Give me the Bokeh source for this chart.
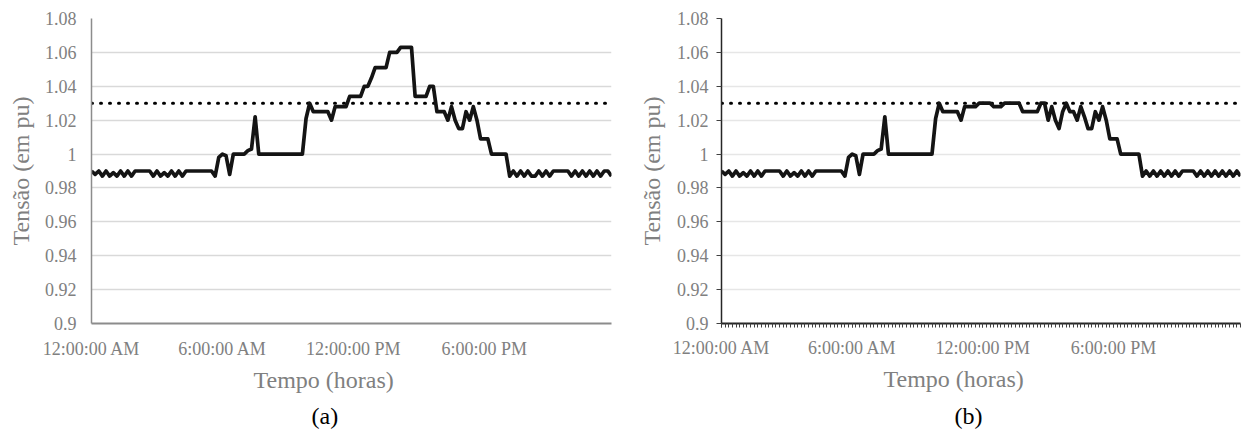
import numpy as np
from bokeh.plotting import figure
from bokeh.layouts import row
from bokeh.models import FixedTicker, Range1d, Title, NumeralTickFormatter
from bokeh.embed import file_html
from bokeh.resources import INLINE

# ---- data -------------------------------------------------------------
# 144 samples (10-minute steps over 24 hours)
time_index = list(range(144))
time_tick_index = [0, 36, 72, 108]
time_tick_labels = ["12:00:00 AM", "6:00:00 AM", "12:00:00 PM", "6:00:00 PM"]
y_ticks = [0.90, 0.92, 0.94, 0.96, 0.98, 1.00, 1.02, 1.04, 1.06, 1.08]
limit_value = 1.03

tensao_a = [
    0.990, 0.988, 0.990, 0.987, 0.990, 0.987, 0.989, 0.987, 0.990, 0.987, 0.990, 0.987,
    0.990, 0.990, 0.990, 0.990, 0.990, 0.987, 0.990, 0.987, 0.989, 0.987, 0.990, 0.987,
    0.990, 0.987, 0.990, 0.990, 0.990, 0.990, 0.990, 0.990, 0.990, 0.990, 0.987, 0.998,
    1.000, 0.999, 0.988, 1.000, 1.000, 1.000, 1.000, 1.002, 1.003, 1.022, 1.000, 1.000,
    1.000, 1.000, 1.000, 1.000, 1.000, 1.000, 1.000, 1.000, 1.000, 1.000, 1.000, 1.021,
    1.030, 1.025, 1.025, 1.025, 1.025, 1.025, 1.020, 1.028, 1.028, 1.028, 1.028, 1.034,
    1.034, 1.034, 1.034, 1.040, 1.040, 1.045, 1.051, 1.051, 1.051, 1.051, 1.060, 1.060,
    1.060, 1.063, 1.063, 1.063, 1.063, 1.034, 1.034, 1.034, 1.034, 1.040, 1.040, 1.025,
    1.025, 1.025, 1.020, 1.028, 1.020, 1.015, 1.015, 1.025, 1.020, 1.028, 1.020, 1.009,
    1.009, 1.009, 1.000, 1.000, 1.000, 1.000, 1.000, 0.987, 0.990, 0.987, 0.990, 0.987,
    0.990, 0.987, 0.987, 0.990, 0.987, 0.990, 0.987, 0.990, 0.990, 0.990, 0.990, 0.990,
    0.987, 0.990, 0.987, 0.990, 0.987, 0.990, 0.987, 0.990, 0.987, 0.990, 0.990, 0.987,
]

tensao_b = [
    0.990, 0.988, 0.990, 0.987, 0.990, 0.987, 0.989, 0.987, 0.990, 0.987, 0.990, 0.987,
    0.990, 0.990, 0.990, 0.990, 0.990, 0.987, 0.990, 0.987, 0.989, 0.987, 0.990, 0.987,
    0.990, 0.987, 0.990, 0.990, 0.990, 0.990, 0.990, 0.990, 0.990, 0.990, 0.987, 0.998,
    1.000, 0.999, 0.988, 1.000, 1.000, 1.000, 1.000, 1.002, 1.003, 1.022, 1.000, 1.000,
    1.000, 1.000, 1.000, 1.000, 1.000, 1.000, 1.000, 1.000, 1.000, 1.000, 1.000, 1.021,
    1.030, 1.025, 1.025, 1.025, 1.025, 1.025, 1.020, 1.028, 1.028, 1.028, 1.028, 1.030,
    1.030, 1.030, 1.030, 1.028, 1.028, 1.028, 1.030, 1.030, 1.030, 1.030, 1.030, 1.025,
    1.025, 1.025, 1.025, 1.025, 1.030, 1.030, 1.020, 1.028, 1.020, 1.015, 1.025, 1.030,
    1.025, 1.025, 1.020, 1.028, 1.022, 1.015, 1.015, 1.025, 1.020, 1.028, 1.020, 1.009,
    1.009, 1.009, 1.000, 1.000, 1.000, 1.000, 1.000, 1.000, 0.987, 0.990, 0.987, 0.990,
    0.987, 0.990, 0.987, 0.990, 0.987, 0.990, 0.987, 0.990, 0.990, 0.990, 0.990, 0.987,
    0.990, 0.987, 0.990, 0.987, 0.990, 0.987, 0.990, 0.987, 0.990, 0.987, 0.990, 0.987,
]

limit_series = [limit_value] * len(time_index)

FONT = "Liberation Serif"
GRAY_TXT = "#808080"


def make_fig(values, caption, width, height, bl, br, bt, bb, ticks, axis_col,
             grid_col, cfg):
    p = figure(width=width, height=height,
               x_range=Range1d(time_index[0], time_index[-1]),
               y_range=Range1d(y_ticks[0], y_ticks[-1]),
               output_backend="svg", toolbar_location=None,
               min_border_left=bl, min_border_right=br,
               min_border_top=bt, min_border_bottom=bb)
    p.outline_line_color = None
    p.background_fill_color = "white"
    p.border_fill_color = "white"

    p.line(time_index, limit_series, line_color="black", line_width=3,
           line_dash="1 8", line_cap="round")
    p.line(time_index, values, line_color="#141414", line_width=3.7,
           line_join="round")

    # y axis
    p.yaxis.ticker = FixedTicker(ticks=y_ticks, minor_ticks=[])
    p.yaxis.formatter = NumeralTickFormatter(format="0.[00]")
    p.yaxis.axis_label = "Tensão (em pu)"
    p.yaxis.axis_label_text_font = FONT
    p.yaxis.axis_label_text_font_size = "24px"
    p.yaxis.axis_label_text_font_style = "normal"
    p.yaxis.axis_label_text_color = GRAY_TXT
    p.yaxis.axis_label_standoff = cfg["ylab_so"]
    p.yaxis.major_label_text_font = FONT
    p.yaxis.major_label_text_font_size = "18px"
    p.yaxis.major_label_text_color = GRAY_TXT
    p.yaxis.major_label_standoff = cfg["ytick_so"]
    p.yaxis.axis_line_color = axis_col
    p.yaxis.axis_line_width = 1.5
    p.yaxis.minor_tick_line_color = None

    # x axis
    p.xaxis.ticker = FixedTicker(ticks=time_tick_index,
                                 minor_ticks=time_index if ticks else [])
    p.xaxis.major_label_overrides = dict(zip(time_tick_index, time_tick_labels))
    p.xaxis.major_label_text_font = FONT
    p.xaxis.major_label_text_font_size = "18px"
    p.xaxis.major_label_text_color = GRAY_TXT
    p.xaxis.major_label_standoff = cfg["xtick_so"]
    p.xaxis.axis_line_color = axis_col
    p.xaxis.axis_line_width = 2

    if ticks:
        p.yaxis.major_tick_line_color = "#404040"
        p.yaxis.major_tick_out = 5
        p.yaxis.major_tick_in = 0
        p.xaxis.major_tick_line_color = "#404040"
        p.xaxis.major_tick_out = 4
        p.xaxis.major_tick_in = 0
        p.xaxis.minor_tick_line_color = "#404040"
        p.xaxis.minor_tick_out = 4
        p.xaxis.minor_tick_in = 0
    else:
        p.xaxis.major_tick_line_color = None
        p.yaxis.major_tick_line_color = None
        p.xaxis.minor_tick_line_color = None

    p.xgrid.grid_line_color = None
    p.ygrid.grid_line_color = grid_col
    p.ygrid.grid_line_width = 1.5
    p.ygrid.ticker = FixedTicker(ticks=y_ticks)

    # x-axis title and caption, placed under the axis
    xt = Title(text="Tempo (horas)", align="left", offset=cfg["xlab_off"],
               text_font=FONT, text_font_size="24px", text_font_style="normal",
               text_color=GRAY_TXT, standoff=cfg["xlab_so"])
    p.add_layout(xt, "below")
    t = Title(text=caption, align="left", offset=cfg["cap_off"], text_font=FONT,
              text_font_size="24px", text_font_style="normal",
              text_color="black", standoff=cfg["cap_so"])
    p.add_layout(t, "below")
    return p


cfg_a = dict(ylab_so=8, ytick_so=9, xtick_so=9, xlab_so=6, xlab_off=162,
             cap_so=10, cap_off=220)
cfg_b = dict(ylab_so=9, ytick_so=8, xtick_so=10, xlab_so=6, xlab_off=162,
             cap_so=12, cap_off=233)

fig_a = make_fig(tensao_a, "(a)", 625, 436, 91, 14, 18, 110, False,
                 "#8c8c8c", "#d9d9d9", cfg_a)
fig_b = make_fig(tensao_b, "(b)", 618, 436, 96, 3, 16, 113, True,
                 "#262626", "#e6e6e6", cfg_b)

layout = row(fig_a, fig_b)
open("out.html", "w").write(file_html(layout, INLINE))
